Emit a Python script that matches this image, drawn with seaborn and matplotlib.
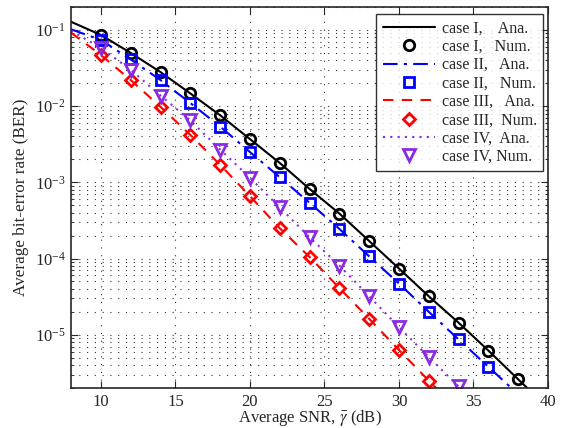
import numpy as np
import pandas as pd
import matplotlib
matplotlib.use("Agg")
import matplotlib.pyplot as plt
import seaborn as sns
from matplotlib.lines import Line2D
from matplotlib.ticker import LogLocator, NullFormatter

# SNR grid for analytical curves (dB)
snr_ana = [8, 10, 12, 14, 16, 18, 20, 22, 24, 26, 28, 30, 32, 34, 36, 38, 40]

ana_I = [0.128, 0.086, 0.050, 0.028, 0.0147, 0.0076, 0.0037, 0.0018, 8.2e-4, 3.9e-4,
         1.7e-4, 7.4e-5, 3.2e-5, 1.44e-5, 6.2e-6, 2.6e-6, 1.1e-6]
ana_II = [0.102, 0.074, 0.041, 0.022, 0.011, 0.0054, 0.0025, 0.00117, 5.4e-4, 2.45e-4,
          1.07e-4, 4.7e-5, 2.0e-5, 8.7e-6, 3.8e-6, 1.65e-6, 7.2e-7]
ana_III = [0.092, 0.047, 0.022, 0.0098, 0.0042, 0.0017, 6.6e-4, 2.5e-4, 1.05e-4, 4.1e-5,
           1.62e-5, 6.3e-6, 2.5e-6, 1.0e-6, 4e-7, 1.6e-7, 6e-8]
ana_IV = [0.098, 0.058, 0.030, 0.0138, 0.0065, 0.0027, 0.00115, 4.7e-4, 1.9e-4, 8.1e-5,
          3.2e-5, 1.26e-5, 5.1e-6, 2.1e-6, 8.5e-7, 3.4e-7, 1.4e-7]

# simulated points
snr_num_I = [10, 12, 14, 16, 18, 20, 22, 24, 26, 28, 30, 32, 34, 36, 38]
num_I = [0.086, 0.050, 0.028, 0.0147, 0.0076, 0.0037, 0.0018, 8.2e-4, 3.9e-4,
         1.7e-4, 7.4e-5, 3.2e-5, 1.44e-5, 6.2e-6, 2.6e-6]
snr_num_II = [10, 12, 14, 16, 18, 20, 22, 24, 26, 28, 30, 32, 34, 36]
num_II = [0.074, 0.041, 0.022, 0.011, 0.0054, 0.0025, 0.00117, 5.4e-4, 2.45e-4,
          1.07e-4, 4.7e-5, 2.0e-5, 8.7e-6, 3.8e-6]
snr_num_III = [10, 12, 14, 16, 18, 20, 22, 24, 26, 28, 30, 32]
num_III = [0.047, 0.022, 0.0098, 0.0042, 0.0017, 6.6e-4, 2.5e-4, 1.05e-4, 4.1e-5,
           1.62e-5, 6.3e-6, 2.5e-6]
snr_num_IV = [10, 12, 14, 16, 18, 20, 22, 24, 26, 28, 30, 32, 34]
num_IV = [0.058, 0.030, 0.0138, 0.0065, 0.0027, 0.00115, 4.7e-4, 1.9e-4, 8.1e-5,
          3.2e-5, 1.26e-5, 5.1e-6, 2.1e-6]

labels = ["case I,    Ana.", "case I,   Num.", "case II,   Ana.", "case II,   Num.",
          "case III,   Ana.", "case III,  Num.", "case IV,  Ana.", "case IV, Num."]

sns.set_style("ticks")
plt.rcParams['font.family'] = ['Liberation Serif', 'DejaVu Serif']
plt.rcParams['mathtext.fontset'] = 'stix'

purple = '#8a2be2'
styles = [
    # (ana, snr_num, num, color, linestyle, marker)
    (ana_I, snr_num_I, num_I, 'black', '-', 'o'),
    (ana_II, snr_num_II, num_II, '#0000ff', (0, (7, 3, 1.5, 3)), 's'),
    (ana_III, snr_num_III, num_III, '#ff0000', (0, (5, 4)), 'D'),
    (ana_IV, snr_num_IV, num_IV, purple, (0, (1, 2.5)), 'v'),
]
msizes = {'o': 7.5, 's': 6.5, 'D': 6, 'v': 8.5}

fig = plt.figure(figsize=(5.69, 4.28), dpi=100)
ax = fig.add_axes([0.125, 0.0935, 0.838, 0.89])

handles = []
for ana, sx, sy, col, ls, mk in styles:
    df_a = pd.DataFrame({'snr': snr_ana, 'ber': ana})
    df_n = pd.DataFrame({'snr': sx, 'ber': sy})
    sns.lineplot(data=df_a, x='snr', y='ber', ax=ax, color=col, linestyle=ls,
                 linewidth=1.5, sort=False, estimator=None)
    sns.lineplot(data=df_n, x='snr', y='ber', ax=ax, color=col, linestyle='none',
                 marker=mk, markersize=msizes[mk], markerfacecolor='none',
                 markeredgecolor=col, markeredgewidth=2, sort=False, estimator=None)
    handles.append(Line2D([], [], color=col, linestyle=ls, linewidth=1.5))
    handles.append(Line2D([], [], color=col, linestyle='none', marker=mk,
                          markersize=msizes[mk], markerfacecolor='none',
                          markeredgecolor=col, markeredgewidth=2))

ax.set_yscale('log')
ax.set_xlim(8, 40)
ax.set_ylim(2e-6, 0.2)
ax.set_xticks([10, 15, 20, 25, 30, 35, 40])
ax.yaxis.set_major_locator(LogLocator(base=10, numticks=10))
ax.yaxis.set_minor_locator(LogLocator(base=10, subs=np.arange(2, 10), numticks=20))
ax.yaxis.set_minor_formatter(NullFormatter())

grid_ls = (0, (1, 6))
ax.grid(True, which='major', linestyle=grid_ls, color='#333333', linewidth=0.8)
ax.grid(True, which='minor', axis='y', linestyle=grid_ls, color='#333333', linewidth=0.8)

ax.tick_params(which='both', direction='in', top=True, right=True, labelsize=12)
ax.tick_params(which='major', length=5, pad=4)
ax.tick_params(which='minor', length=2.5)
for s in ax.spines.values():
    s.set_linewidth(1.2)

ax.set_xlabel(r'Average SNR, $\bar{\gamma}$ (dB)', fontsize=12, labelpad=-1)
ax.set_ylabel('Average bit-error rate (BER)', fontsize=12.3, labelpad=4)

leg = ax.legend(handles, labels, loc='upper right', bbox_to_anchor=(0.99, 0.982),
                fontsize=11.5, frameon=True, fancybox=False, edgecolor='black',
                handlelength=3.3, handletextpad=0.4, labelspacing=0.15,
                borderpad=0.4, borderaxespad=0)
leg.get_frame().set_linewidth(1.0)

fig.savefig('out.png', dpi=100)
